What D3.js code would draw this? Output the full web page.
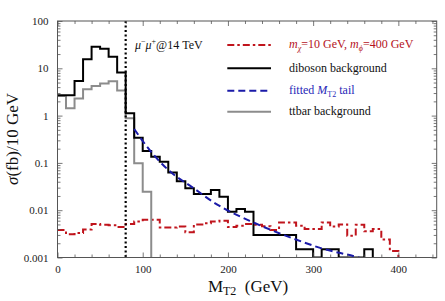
<!DOCTYPE html>
<html><head><meta charset="utf-8">
<script src="https://cdn.jsdelivr.net/npm/d3@7"></script>
<style>
body{margin:0;background:#fff}
svg{display:block}
</style>
</head><body>
<svg id="c" width="445" height="301"></svg>
<script>
// ---------- data ----------
const binWidth = 10; // GeV
const diboson = [2.7,2.7,5.4,15.5,28.6,26,17.6,8.2,1.12,0.34,
  0.179,0.135,0.106,0.063,0.041,0.029,0.022,0.022,0.0267,0.0193,
  0.0093,0.0106,0.0093,0.003,0.003,0.003,0.003,0.003,0.0015,0.0015,
  0,0.0015,0.0015,0,0,0,0.0015];
const ttbar = [2.6,1.43,2.3,3.6,4.2,4.8,5.3,3.4,0.88,0.098,0.0246];
const signal = [0.0038,0.0031,0.0033,0.0039,0.0051,0.0049,0.0048,0.0044,0.0051,0.0058,
  0.0063,0.0063,0.0043,0.0043,0.0045,0.0034,0.0050,0.0053,0.0058,0.0060,
  0.0044,0.0047,0.0051,0.0049,0.0046,0.0038,0.0055,0.0055,0.0047,0.0040,
  0.0040,0.0055,0.0045,0.0050,0.0029,0.0049,0.0036,0.0040,0.0024,0.00137];
const fitX = [90,110,130,160,185,232,279,310,353,370];
const fitY = [0.52,0.17,0.071,0.029,0.014,0.0053,0.00243,0.00156,0.001,0.0008];
const cutX = 80;
const xTickValues = [0,100,200,300,400];
const xTickLabels = ["0","100","200","300","400"];
const yTickValues = [0.001,0.01,0.1,1,10,100];
const yTickLabels = ["0.001","0.01","0.1","1","10","100"];

// ---------- layout ----------
const FONT = "'Liberation Serif', 'Times New Roman', 'DejaVu Serif', serif";
const L = 57.5, R = 436.7, T = 21, B = 257.5;
const svg = d3.select("#c").style("font-family", FONT);
const x = d3.scaleLinear().domain([0,445]).range([L,R]);
const y = d3.scaleLog().domain([0.001,100]).range([B,T]);
const yMin = 0.001;

svg.append("defs").append("clipPath").attr("id","clip")
  .append("rect").attr("x",L).attr("y",T).attr("width",R-L).attr("height",B-T);

const frameColor = "#555";

const xMinor = d3.range(0,446,20).filter(v=>v%100!==0);
const yMinor = [];
for (let d=-3; d<2; d++) for (let k=2;k<10;k++) yMinor.push(k*Math.pow(10,d));

function tickAxes(){
  const g = svg.append("g");
  const axB = d3.axisBottom(x).tickValues(xTickValues).tickSizeInner(-5).tickSizeOuter(0).tickFormat((d,i)=>xTickLabels[i]).tickPadding(8);
  const gb = g.append("g").attr("transform",`translate(0,${B})`).call(axB);
  gb.append("g").call(d3.axisBottom(x).tickValues(xMinor).tickSize(-3).tickFormat(""));
  const gt = g.append("g").attr("transform",`translate(0,${T})`).call(d3.axisTop(x).tickValues(xTickValues).tickSizeInner(-5).tickSizeOuter(0).tickFormat(""));
  gt.append("g").call(d3.axisTop(x).tickValues(xMinor).tickSize(-3).tickFormat(""));
  const axL = d3.axisLeft(y).tickValues(yTickValues).tickSizeInner(-5).tickSizeOuter(0).tickFormat((d,i)=>yTickLabels[i]).tickPadding(9);
  const gl = g.append("g").attr("transform",`translate(${L},0)`).call(axL);
  gl.append("g").call(d3.axisLeft(y).tickValues(yMinor).tickSize(-3).tickFormat(""));
  const gr = g.append("g").attr("transform",`translate(${R},0)`).call(d3.axisRight(y).tickValues(yTickValues).tickSizeInner(-5).tickSizeOuter(0).tickFormat(""));
  gr.append("g").call(d3.axisRight(y).tickValues(yMinor).tickSize(-3).tickFormat(""));
  g.selectAll(".domain").remove();
  g.selectAll("g").attr("font-family", null);
  g.selectAll("line").attr("stroke",frameColor).attr("stroke-width",0.8);
  g.selectAll("text").style("font-family",FONT).attr("font-size",11).attr("fill","#222");
  svg.append("rect").attr("x",L).attr("y",T).attr("width",R-L).attr("height",B-T)
    .attr("fill","none").attr("stroke",frameColor).attr("stroke-width",1);
}

function histPoints(vals){
  const pts = vals.map((v,i)=>[i*binWidth, Math.max(v,yMin)]);
  pts.push([vals.length*binWidth, yMin]);
  return pts;
}
const stepLine = d3.line().x(d=>x(d[0])).y(d=>y(d[1])).curve(d3.curveStepAfter);
const plot = svg.append("g").attr("clip-path","url(#clip)");

plot.append("path").attr("d",stepLine(histPoints(signal)))
  .attr("fill","none").attr("stroke","#c0141c").attr("stroke-width",2)
  .attr("stroke-dasharray","7,3,2.5,3");
plot.append("path").attr("d",stepLine(histPoints(ttbar)))
  .attr("fill","none").attr("stroke","#8c8c8c").attr("stroke-width",2);
plot.append("path").attr("d",stepLine(histPoints(diboson)))
  .attr("fill","none").attr("stroke","#000").attr("stroke-width",2);
const fitLine = d3.line().x(d=>x(d[0])).y(d=>y(d[1])).curve(d3.curveMonotoneX);
plot.append("path").attr("d",fitLine(fitX.map((v,i)=>[v,fitY[i]])))
  .attr("fill","none").attr("stroke","#1a1aa8").attr("stroke-width",2)
  .attr("stroke-dasharray","7,4");
plot.append("line").attr("x1",x(cutX)).attr("x2",x(cutX)).attr("y1",T).attr("y2",B)
  .attr("stroke","#000").attr("stroke-width",2.2).attr("stroke-dasharray","2,2.5");

tickAxes();

function txt(sel){ return sel.style("font-family",FONT); }

const ann = txt(svg.append("text")).attr("x",135).attr("y",49).attr("font-size",12).attr("fill","#111");
ann.append("tspan").attr("font-style","italic").text("μ");
ann.append("tspan").attr("dy",-5).attr("font-size",8).text("−");
ann.append("tspan").attr("dy",5).attr("font-style","italic").text("μ");
ann.append("tspan").attr("dy",-5).attr("font-size",8).text("+");
ann.append("tspan").attr("dy",5).text("@14 TeV");

const lx1 = 227.3, lx2 = 271, tx = 289;
const leg = svg.append("g");
leg.append("line").attr("x1",lx1).attr("x2",lx2).attr("y1",45).attr("y2",45)
  .attr("stroke","#c0141c").attr("stroke-width",2).attr("stroke-dasharray","7,3,2.5,3");
leg.append("line").attr("x1",lx1).attr("x2",lx2).attr("y1",68.3).attr("y2",68.3)
  .attr("stroke","#000").attr("stroke-width",2);
leg.append("line").attr("x1",lx1).attr("x2",lx2).attr("y1",90.7).attr("y2",90.7)
  .attr("stroke","#1a1aa8").attr("stroke-width",2).attr("stroke-dasharray","7,4");
leg.append("line").attr("x1",lx1).attr("x2",lx2).attr("y1",111.7).attr("y2",111.7)
  .attr("stroke","#8c8c8c").attr("stroke-width",2);

const t1 = txt(leg.append("text")).attr("x",tx).attr("y",48).attr("font-size",12).attr("fill","#b5121b");
t1.append("tspan").attr("font-style","italic").text("m");
t1.append("tspan").attr("dy",3).attr("font-size",8).attr("font-style","italic").text("χ");
t1.append("tspan").attr("dy",-3).text("=10 GeV, ");
t1.append("tspan").attr("font-style","italic").text("m");
t1.append("tspan").attr("dy",3).attr("font-size",8).attr("font-style","italic").text("ϕ");
t1.append("tspan").attr("dy",-3).text("=400 GeV");

txt(leg.append("text")).attr("x",tx).attr("y",71.5).attr("font-size",12).attr("fill","#111").text("diboson background");
const t3 = txt(leg.append("text")).attr("x",tx).attr("y",94).attr("font-size",12).attr("fill","#2828b8");
t3.append("tspan").text("fitted ");
t3.append("tspan").attr("font-style","italic").text("M");
t3.append("tspan").attr("dy",3).attr("font-size",8).text("T2");
t3.append("tspan").attr("dy",-3).text(" tail");
txt(leg.append("text")).attr("x",tx).attr("y",115).attr("font-size",12).attr("fill","#111").text("ttbar background");

const xt = txt(svg.append("text")).attr("x",(L+R)/2+1).attr("y",292).attr("text-anchor","middle").attr("font-size",17).attr("fill","#111");
xt.append("tspan").text("M");
xt.append("tspan").attr("dy",3).attr("font-size",12).text("T2");
xt.append("tspan").attr("dy",-3).text("\u00a0\u00a0(GeV)");

const yt = txt(svg.append("text")).attr("transform","translate(18,139) rotate(-90)").attr("text-anchor","middle").attr("font-size",17).attr("fill","#111");
yt.append("tspan").attr("font-style","italic").text("σ");
yt.append("tspan").text("(fb)/10 GeV");
</script>
</body></html>
